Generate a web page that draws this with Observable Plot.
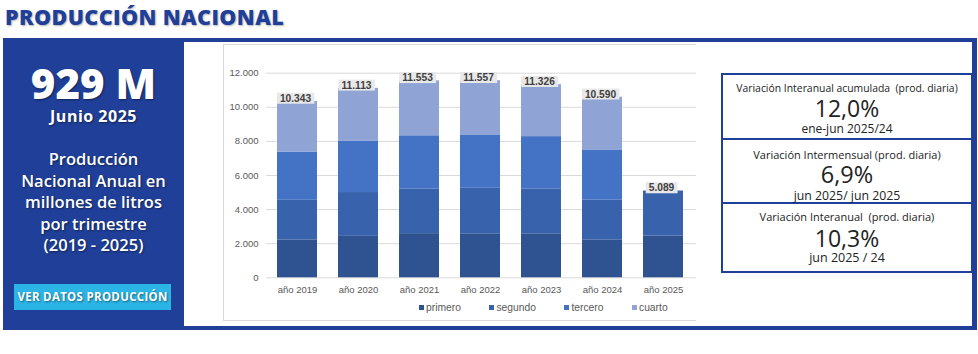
<!DOCTYPE html>
<html><head><meta charset="utf-8">
<script src="https://cdn.jsdelivr.net/npm/d3@7"></script>
<script src="https://cdn.jsdelivr.net/npm/@observablehq/plot@0.6"></script>
<style>
body{margin:0;background:#fff;}
#page{position:relative;width:978px;height:354px;overflow:hidden;font-family:"Open Sans",sans-serif;}
.abs{position:absolute;}
.shadow{text-shadow:1px 1px 2px rgba(0,0,0,0.45);}
.lp{color:#fff;text-align:center;left:3px;width:181px;}
.box{position:absolute;left:721px;width:252px;box-sizing:border-box;border:2px solid #1f3f99;background:#fff;}
.bt{position:absolute;left:725px;width:244px;text-align:center;color:#222;white-space:pre;}
#legend{position:absolute;left:419px;top:302px;display:flex;gap:28.5px;font-family:"Liberation Sans",Arial,sans-serif;font-size:10.3px;color:#595959;line-height:12px;}
#legend span.sw{display:inline-block;width:5px;height:5px;margin-right:2px;vertical-align:1px;}
</style></head><body><div id="page">
<div class="abs" style="left:5px;top:5px;font-size:21.5px;font-weight:800;color:#1f3f99;line-height:24px;letter-spacing:0.4px;white-space:nowrap;text-shadow:1px 1px 2px rgba(0,0,0,0.3)">PRODUCCIÓN NACIONAL</div>
<div class="abs" style="left:3px;top:38px;width:974px;height:292px;background:#1f3f99"></div>
<div class="abs" style="left:184px;top:42px;width:788px;height:284px;background:#fff"></div>
<div class="abs lp shadow" style="top:64px;font-size:42px;font-weight:800;line-height:38px;">929 M</div>
<div class="abs lp shadow" style="top:108px;font-size:16px;font-weight:700;line-height:17px;letter-spacing:0.5px">Junio 2025</div>
<div class="abs lp shadow" style="top:148px;font-size:16.5px;font-weight:600;line-height:21.5px;letter-spacing:0px">Producción<br>Nacional Anual en<br>millones de litros<br>por trimestre<br>(2019 - 2025)</div>
<div class="abs shadow" style="left:14px;top:284px;width:157px;height:26px;background:#2bb4e6;color:#fff;font-size:11.5px;font-weight:700;line-height:26px;text-align:center;white-space:nowrap;letter-spacing:0.3px">VER DATOS PRODUCCIÓN</div>
<div class="abs" style="left:223px;top:44px;width:473px;height:277px;box-sizing:border-box;border:1px solid #d9d9d9;border-right:none"></div>
<div class="abs" id="chart" style="left:223px;top:44px;"></div>
<div id="legend"></div>
<div class="box" style="top:73px;height:67px"></div>
<div class="box" style="top:138px;height:67px"></div>
<div class="box" style="top:202px;height:71px"></div>
<div class="bt" style="top:82px;font-size:10.4px;line-height:12px">Variación Interanual acumulada  (prod. diaria)</div>
<div class="bt" style="top:96px;font-size:23px;line-height:24px">12,0%</div>
<div class="bt" style="top:122px;font-size:12px;line-height:14px">ene-jun 2025/24</div>
<div class="bt" style="top:148px;font-size:11px;line-height:13px">Variación Intermensual (prod. diaria)</div>
<div class="bt" style="top:162px;font-size:23.5px;line-height:25px">6,9%</div>
<div class="bt" style="top:189px;font-size:12.3px;line-height:14px">jun 2025/ jun 2025</div>
<div class="bt" style="top:210px;font-size:11px;line-height:13px">Variación Interanual  (prod. diaria)</div>
<div class="bt" style="top:226px;font-size:23px;line-height:24px">10,3%</div>
<div class="bt" style="top:251px;font-size:12.5px;line-height:14px">jun 2025 / 24</div>
</div>
<script>
const years = ["año 2019","año 2020","año 2021","año 2022","año 2023","año 2024","año 2025"];
const quarters = ["primero","segundo","tercero","cuarto"];
const primero = [2224, 2430, 2590, 2580, 2580, 2227, 2440];
const segundo = [2322, 2570, 2606, 2670, 2615, 2323, 2649];
const tercero = [2830, 3000, 3134, 3130, 3085, 2950, 0];
const cuarto  = [2967, 3113, 3223, 3177, 3046, 3090, 0];
const totals = [10343, 11113, 11553, 11557, 11326, 10590, 5089];
const totalLabels = ["10.343","11.113","11.553","11.557","11.326","10.590","5.089"];
const yTicks = [0, 2000, 4000, 6000, 8000, 10000, 12000];
const yTickLabels = ["0","2.000","4.000","6.000","8.000","10.000","12.000"];
const colors = ["#2f5391","#3862ac","#4472c4","#8fa3d5"];

const series = [primero, segundo, tercero, cuarto];
const rows = [];
years.forEach((y, i) => {
  series.forEach((s, j) => {
    if (s[i] > 0) rows.push({year: y, quarter: quarters[j], value: s[i]});
  });
});
const totalsData = years.map((y, i) => ({year: y, total: totals[i], label: totalLabels[i]}));

const chart = Plot.plot({
  width: 473, height: 256,
  marginLeft: 43, marginRight: 0, marginTop: 28.7, marginBottom: 22.7,
  style: {fontFamily: "'Liberation Sans', Arial, sans-serif", fontSize: "9.5px", color: "#595959", background: "transparent", overflow: "visible"},
  x: {domain: years, paddingInner: 0.344, paddingOuter: 0.19, align: 0.45, label: null, tickSize: 0, tickPadding: 8},
  y: {domain: [0, 12000], ticks: yTicks, tickFormat: d => yTickLabels[yTicks.indexOf(d)], label: null, tickSize: 0, tickPadding: 8},
  color: {domain: quarters, range: colors},
  marks: [
    Plot.ruleY(yTicks, {stroke: "#d9d9d9", strokeWidth: 1}),
    Plot.barY(rows, {x: "year", y: "value", fill: "quarter"}),
    Plot.text(totalsData, {x: "year", y: "total", text: "label", dy: -3, dx: -2, fontWeight: "bold", fontSize: 10.2, fill: "#404040"})
  ]
});
document.getElementById("chart").appendChild(chart);

// background boxes behind total labels
chart.querySelectorAll('g[aria-label="text"] text').forEach(t => {
  const b = t.getBBox();
  const r = document.createElementNS("http://www.w3.org/2000/svg", "rect");
  r.setAttribute("x", b.x - 3);
  r.setAttribute("y", b.y);
  r.setAttribute("width", b.width + 6);
  r.setAttribute("height", b.height);
  r.setAttribute("fill", "#e8e8e8");
  const tr = t.getAttribute("transform");
  if (tr) r.setAttribute("transform", tr);
  t.parentNode.insertBefore(r, t);
});

const legend = document.getElementById("legend");
quarters.forEach((q, i) => {
  const item = document.createElement("div");
  item.innerHTML = `<span class="sw" style="background:${colors[i]}"></span>${q}`;
  legend.appendChild(item);
});
</script>
</body></html>
